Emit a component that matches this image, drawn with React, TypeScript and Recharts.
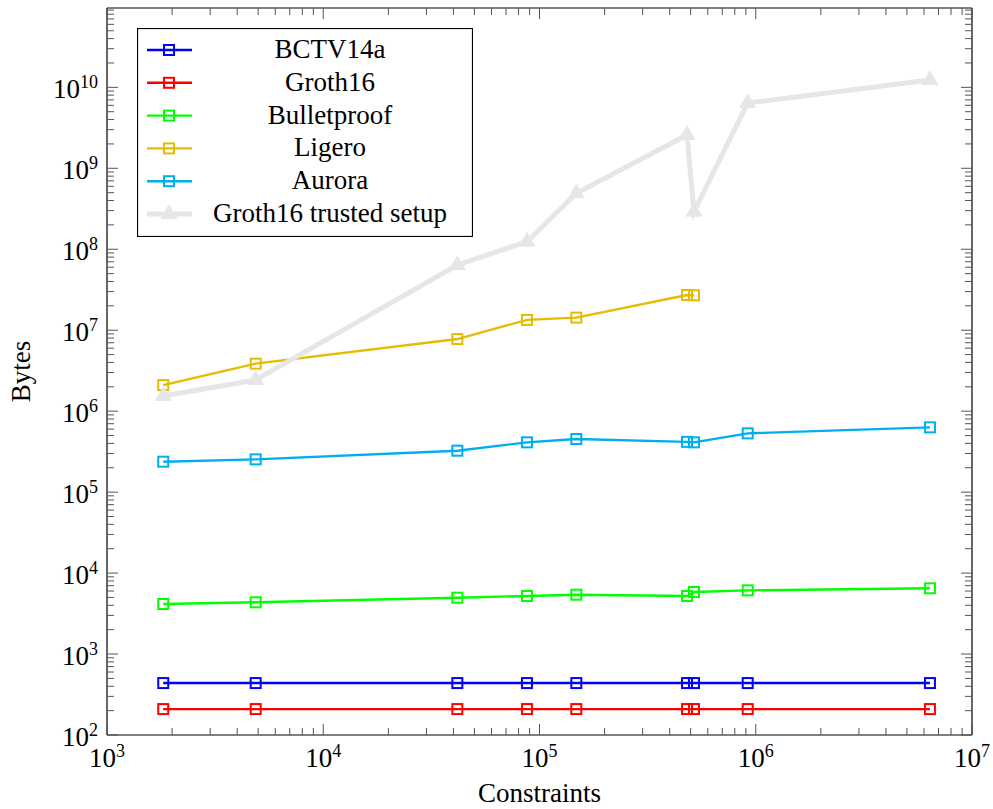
import React from "react";
import { LineChart, Line, XAxis, YAxis, Legend } from "recharts";

// constraint counts (x) and sizes in bytes (y)
const CONSTRAINTS = [1820, 4870, 41700, 87500, 148000, 481000, 518000, 918000, 6390000];
const BCTV14A = [438, 438, 438, 438, 438, 438, 438, 438, 438];
const GROTH16 = [209, 209, 209, 209, 209, 209, 209, 209, 209];
const BULLETPROOF = [4150, 4355, 4965, 5210, 5410, 5210, 5840, 6120, 6490];
const LIGERO = [2.1e6, 3.86e6, 7.78e6, 1.34e7, 1.43e7, 2.72e7, 2.7e7, null, null];
const AURORA = [237700, 254000, 325000, 412000, 453000, 418000, 412000, 532000, 631000];
const TRUSTED_SETUP = [1.54e6, 2.43e6, 6.38e7, 1.24e8, 4.91e8, 2.58e9, 2.91e8, 6.4e9, 1.23e10];

const X_EXPONENTS = [3, 4, 5, 6, 7];
const Y_EXPONENTS = [2, 3, 4, 5, 6, 7, 8, 9, 10];
const MINOR_STEPS = [2, 3, 4, 5, 6, 7, 8, 9];

const X_DOMAIN = [1e3, 1e7];
const Y_DOMAIN = [1e2, Math.pow(10, 10.98)];

const SERIES = [
  { key: "bctv", name: "BCTV14a", values: BCTV14A, color: "#0000ff", mark: "square" },
  { key: "groth", name: "Groth16", values: GROTH16, color: "#ff0000", mark: "square" },
  { key: "bullet", name: "Bulletproof", values: BULLETPROOF, color: "#00ff00", mark: "square" },
  { key: "ligero", name: "Ligero", values: LIGERO, color: "#e5bc00", mark: "square" },
  { key: "aurora", name: "Aurora", values: AURORA, color: "#00aeef", mark: "square" },
  { key: "setup", name: "Groth16 trusted setup", values: TRUSTED_SETUP, color: "#e6e6e6", mark: "triangle" },
];

const FONT = "'Liberation Serif', 'DejaVu Serif', serif";
const TICK_COLOR = "#555";
const textStyle = { fontFamily: FONT };

const buildTicks = (exps: number[], top: number) =>
  exps.flatMap((e) => {
    const base = Math.pow(10, e);
    return [base, ...MINOR_STEPS.map((m) => m * base).filter((v) => v <= top)];
  });

const X_TICKS = buildTicks(X_EXPONENTS, X_DOMAIN[1]);
const Y_TICKS = buildTicks(Y_EXPONENTS, Y_DOMAIN[1]);

const data = CONSTRAINTS.map((x, i) => {
  const row: any = { x };
  SERIES.forEach((s) => (row[s.key] = s.values[i]));
  return row;
});

const exponentOf = (v: number) => {
  const l = Math.log10(v);
  return Math.abs(l - Math.round(l)) < 1e-6 ? Math.round(l) : null;
};

const Pow10 = ({ exp, ...rest }: any) => (
  <text style={textStyle} fontSize={27} fill="#000" {...rest}>
    10
    <tspan dy={-10} fontSize={18}>
      {exp}
    </tspan>
  </text>
);

const BottomTick = ({ x, y, payload }: any) => {
  const exp = exponentOf(payload.value);
  return (
    <g>
      <line x1={x} x2={x} y1={y} y2={y - (exp != null ? 11 : 7)} stroke={TICK_COLOR} />
      {exp != null && <Pow10 exp={exp} x={x} y={y + 32} textAnchor="middle" />}
    </g>
  );
};

const TopTick = ({ x, y, payload }: any) => {
  const exp = exponentOf(payload.value);
  return <line x1={x} x2={x} y1={y} y2={y + (exp != null ? 11 : 7)} stroke={TICK_COLOR} />;
};

const LeftTick = ({ x, y, payload }: any) => {
  const exp = exponentOf(payload.value);
  return (
    <g>
      <line x1={x} x2={x + (exp != null ? 11 : 7)} y1={y} y2={y} stroke={TICK_COLOR} />
      {exp != null && <Pow10 exp={exp} x={x - 9} y={y + 11} textAnchor="end" />}
    </g>
  );
};

const RightTick = ({ x, y, payload }: any) => {
  const exp = exponentOf(payload.value);
  return <line x1={x} x2={x - (exp != null ? 11 : 7)} y1={y} y2={y} stroke={TICK_COLOR} />;
};

const Marker = ({ mark, color, cx, cy }: any) => {
  if (mark === "triangle") {
    const pts = `${cx},${cy - 9} ${cx + 7.8},${cy + 4.5} ${cx - 7.8},${cy + 4.5}`;
    return <polygon points={pts} fill={color} stroke={color} strokeWidth={1} />;
  }
  return <rect x={cx - 5} y={cy - 5} width={10} height={10} fill="none" stroke={color} strokeWidth={2} />;
};

const makeDot = (s: any) => (p: any) => {
  const k = `dot-${s.key}-${p.index}`;
  if (p.cx == null || p.cy == null || p.value == null) return <g key={k} />;
  return (
    <g key={k}>
      <Marker mark={s.mark} color={s.color} cx={p.cx} cy={p.cy} />
    </g>
  );
};

const LegendBox = ({ payload }: any) => {
  const shown = new Set((payload || []).map((entry: any) => entry.dataKey));
  const rows = SERIES.filter((s) => shown.has(s.key));
  return (
    <svg width={336} height={209} style={{ display: "block" }}>
      <rect x={0.5} y={0.5} width={335} height={208} fill="#fff" stroke="#000" strokeWidth={1.2} />
      {rows.map((s, i) => {
        const cy = 22 + i * 32.8;
        const thick = s.mark === "triangle";
        return (
          <g key={s.key}>
            <line x1={10} x2={55} y1={cy} y2={cy} stroke={s.color} strokeWidth={thick ? 5 : 2.4} />
            <Marker mark={s.mark} color={s.color} cx={32} cy={cy} />
            <text x={193} y={cy + 8} textAnchor="middle" style={textStyle} fontSize={27} fill="#000">
              {s.name}
            </text>
          </g>
        );
      })}
    </svg>
  );
};

const axisLine = { stroke: "#000", strokeWidth: 1.2 };

export default function App() {
  return (
    <div style={{ position: "absolute", left: 0, top: 0, background: "#fff" }}>
      <LineChart width={993} height={809} data={data} margin={{ top: 7, right: 20, bottom: 0, left: 0 }}>
        <XAxis
          dataKey="x"
          type="number"
          scale="log"
          domain={X_DOMAIN}
          allowDataOverflow
          ticks={X_TICKS}
          interval={0}
          height={74}
          tickSize={0}
          tickMargin={0}
          tickLine={false}
          axisLine={axisLine}
          tick={<BottomTick />}
          label={{
            value: "Constraints",
            position: "insideBottom",
            offset: 7,
            fontSize: 27,
            fill: "#000",
            style: textStyle,
          }}
        />
        <XAxis
          xAxisId="top"
          dataKey="x"
          type="number"
          scale="log"
          orientation="top"
          domain={X_DOMAIN}
          allowDataOverflow
          ticks={X_TICKS}
          interval={0}
          height={1}
          tickSize={0}
          tickMargin={0}
          tickLine={false}
          axisLine={axisLine}
          tick={<TopTick />}
        />
        <YAxis
          type="number"
          scale="log"
          domain={Y_DOMAIN}
          allowDataOverflow
          ticks={Y_TICKS}
          interval={0}
          width={107}
          tickSize={0}
          tickMargin={0}
          tickLine={false}
          axisLine={axisLine}
          tick={<LeftTick />}
          label={{
            value: "Bytes",
            angle: -90,
            position: "insideLeft",
            offset: 20,
            fontSize: 27,
            fill: "#000",
            style: { ...textStyle, textAnchor: "middle" },
          }}
        />
        <YAxis
          yAxisId="right"
          type="number"
          scale="log"
          orientation="right"
          domain={Y_DOMAIN}
          allowDataOverflow
          ticks={Y_TICKS}
          interval={0}
          width={1}
          tickSize={0}
          tickMargin={0}
          tickLine={false}
          axisLine={axisLine}
          tick={<RightTick />}
        />
        {SERIES.map((s) => (
          <Line
            key={s.key}
            dataKey={s.key}
            name={s.name}
            type="linear"
            stroke={s.color}
            strokeWidth={s.mark === "triangle" ? 5 : 2.4}
            dot={makeDot(s)}
            activeDot={false}
            isAnimationActive={false}
          />
        ))}
        {/* invisible series so the mirrored top/right axes get drawn */}
        <Line
          xAxisId="top"
          yAxisId="right"
          dataKey="groth"
          stroke="none"
          dot={false}
          activeDot={false}
          legendType="none"
          isAnimationActive={false}
        />
        <Legend
          layout="horizontal"
          verticalAlign="middle"
          align="center"
          content={<LegendBox />}
          wrapperStyle={{ left: 137, top: 28, width: 336, height: 209 }}
        />
      </LineChart>
    </div>
  );
}
